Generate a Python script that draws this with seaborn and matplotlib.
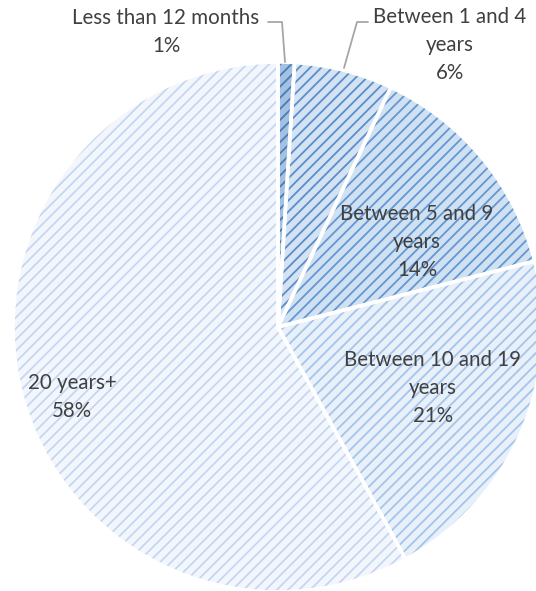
import matplotlib
matplotlib.use("Agg")
import matplotlib.pyplot as plt
import seaborn as sns

categories = ["Less than 12 months", "Between 1 and 4\nyears", "Between 5 and 9\nyears",
              "Between 10 and 19\nyears", "20 years+"]
values = [1, 6, 14, 21, 58]
pct_labels = ["1%", "6%", "14%", "21%", "58%"]

sns.set_theme(style="white")
plt.rcParams['font.family'] = ['Lato', 'DejaVu Sans']
plt.rcParams['hatch.linewidth'] = 1.3

face_colors = ["#a3c1e2", "#d3e3f4", "#d0e1f3", "#e8f0fa", "#f3f7fd"]
hatch_colors = ["#4a7cb6", "#5b8dc8", "#6497d0", "#a6c4ea", "#c4d7f1"]

W, H = 536, 591
fig = plt.figure(figsize=(W / 100, H / 100), dpi=100)
ax = fig.add_axes([0, 0, 1, 1])

cx, cy, R = 278, H - 327, 265
wedges, _ = ax.pie(values, startangle=90, counterclock=False, colors=face_colors,
                   radius=R, center=(cx, cy), frame=True,
                   wedgeprops=dict(linewidth=0))
for w, hc in zip(wedges, hatch_colors):
    w.set_hatch('///')
    w.set_edgecolor(hc)
    w.set_linewidth(0)
ax.pie(values, startangle=90, counterclock=False, colors=['none'] * len(values),
       radius=R, center=(cx, cy), frame=True,
       wedgeprops=dict(edgecolor='white', linewidth=2.6, facecolor='none'))
ax.set_xlim(0, W)
ax.set_ylim(0, H)
ax.set_aspect('equal')
ax.axis('off')

tc = "#404040"
fs = 14.8

def lab(x, y, s, ha='center'):
    ax.text(x, H - y, s, ha=ha, va='center', fontsize=fs, color=tc, linespacing=1.5)

lab(166, 32, "Less than 12 months\n1%")
lab(450, 45, "Between 1 and 4\nyears\n6%")
lab(417, 242, "Between 5 and 9\nyears\n14%")
lab(433, 388, "Between 10 and 19\nyears\n21%")
lab(72, 397, "20 years+\n58%")

lc = "#a6a6a6"
ax.plot([268, 282, 285], [H - 22, H - 22, H - 62], color=lc, lw=1.3)
ax.plot([368, 357, 344], [H - 22, H - 22, H - 68], color=lc, lw=1.3)

fig.savefig("out.png", dpi=100)
